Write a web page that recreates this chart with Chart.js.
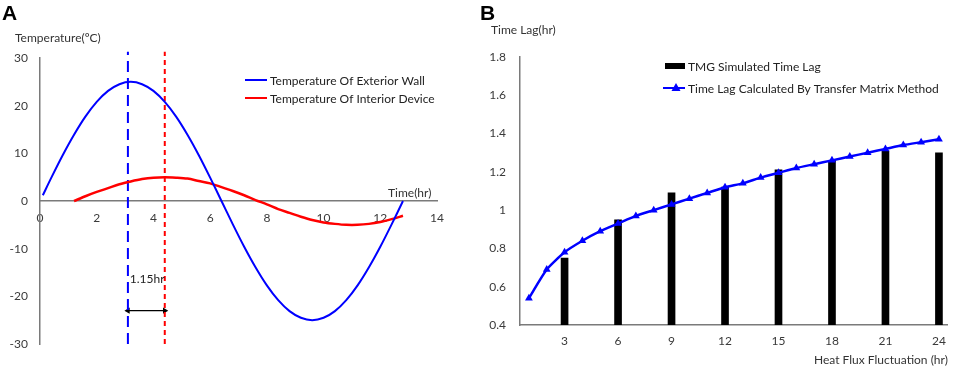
<!DOCTYPE html>
<html lang="en">
<head>
  <meta charset="UTF-8" />
  <title>Temperature and Time Lag</title>
  <style>
    body, html {
      margin: 0;
      background: #fff;
      font-family: 'Lato', sans-serif;
    }
    #wrap {
      position: relative;
      width: 955px;
      height: 369px;
      overflow: hidden;
    }
    canvas { position: absolute; top: 0; }
    #chartA { left: 0; }
    #chartB { left: 478px; }
    .txt {
      position: absolute;
      font-size: 12px;
      color: #333;
      white-space: nowrap;
      line-height: 14px;
    }
    .panel {
      position: absolute;
      font-family: 'Liberation Sans', Arial, sans-serif;
      font-weight: bold;
      font-size: 21px;
      line-height: 21px;
      color: #000;
    }
  </style>
</head>
<body>
<div id="wrap">
  <canvas id="chartA" width="478" height="369"></canvas>
  <canvas id="chartB" width="477" height="369"></canvas>
  <div class="panel" style="left:2px; top:2px;">A</div>
  <div class="panel" style="left:480px; top:2px;">B</div>
  <div class="txt" style="left:15px; top:31px;">Temperature(ºC)</div>
  <div class="txt" style="left:388px; top:186px;">Time(hr)</div>
  <div class="txt" style="left:491px; top:23px;">Time Lag(hr)</div>
</div>

<script src="https://cdn.jsdelivr.net/npm/chart.js"></script>
<script>
  // panel A - temperature waves
  const wallTime = [0.1, 0.4, 0.8, 1.2, 1.6, 2.0, 2.4, 2.8, 3.2, 3.6, 4.0, 4.4, 4.8, 5.2, 5.6, 6.0, 6.4,
                    6.8, 7.2, 7.6, 8.0, 8.4, 8.8, 9.2, 9.6, 10.0, 10.4, 10.8, 11.2, 11.6, 12.0, 12.4, 12.8];
  const wallTemp = [1.2, 4.9, 9.6, 13.9, 17.7, 20.8, 23.1, 24.5, 25.0, 24.5, 23.1, 20.8, 17.7, 13.9, 9.6, 4.9, 0,
                    -4.9, -9.6, -13.9, -17.7, -20.8, -23.1, -24.5, -25.0, -24.5, -23.1, -20.8, -17.7, -13.9, -9.6, -4.9, 0];
  const deviceTime = [1.2, 1.6, 2.0, 2.4, 2.8, 3.2, 3.6, 4.0, 4.4, 4.8, 5.2, 5.6, 6.0, 6.4, 6.8,
                      7.2, 7.6, 8.0, 8.4, 8.8, 9.2, 9.6, 10.0, 10.4, 10.8, 11.2, 11.6, 12.0, 12.4, 12.8];
  const deviceTemp = [0, 1.0, 1.9, 2.7, 3.5, 4.1, 4.6, 4.9, 5.0, 4.9, 4.7, 4.2, 3.7, 2.9, 2.1,
                      1.2, 0.2, -0.7, -1.7, -2.5, -3.3, -4.0, -4.5, -4.8, -5.0, -5.0, -4.8, -4.4, -3.8, -3.1];
  const peakTime = [3.1, 4.4];      // wall peak, device peak
  const lagText = '1.15hr';
  const timeTicks = [0, 14, 2];     // min, max, step
  const tempTicks = [-30, 30, 10];

  // panel B - time lag
  const fluctHours = ['1', '2', '3', '4', '5', '6', '7', '8', '9', '10', '11', '12',
                      '13', '14', '15', '16', '17', '18', '19', '20', '21', '22', '23', '24'];
  const tmmLag = [0.54, 0.69, 0.78, 0.84, 0.89, 0.93, 0.97, 1.00, 1.03, 1.06, 1.09, 1.12,
                  1.14, 1.17, 1.195, 1.22, 1.24, 1.26, 1.28, 1.30, 1.32, 1.34, 1.355, 1.37];
  const tmgHours = ['3', '6', '9', '12', '15', '18', '21', '24'];
  const tmgLag = [0.75, 0.95, 1.09, 1.12, 1.21, 1.26, 1.31, 1.30];
  const lagTicks = [0.4, 1.8, 0.2];

  const axisColor = '#7a7a7a';
  const tickColor = '#3a3a3a';
  const tickFont = { family: 'Lato', size: 12 };

  const pts = (xs, ys) => xs.map((x, i) => ({ x: x, y: ys[i] }));

  // small legend drawn inside the plot
  function legendPlugin(items) {
    return {
      id: 'inlineLegend',
      afterDraw(chart) {
        const ctx = chart.ctx;
        ctx.save();
        ctx.font = '12px Lato';
        ctx.textBaseline = 'middle';
        items.forEach(it => {
          const ds = chart.data.datasets[it.ds];
          if (it.kind === 'box') {
            ctx.fillStyle = ds.backgroundColor;
            ctx.fillRect(it.x, it.y - 3, it.w, 6);
          } else {
            ctx.strokeStyle = ds.borderColor;
            ctx.lineWidth = 2;
            ctx.beginPath();
            ctx.moveTo(it.x, it.y);
            ctx.lineTo(it.x + it.w, it.y);
            ctx.stroke();
            if (it.marker) {
              ctx.fillStyle = ds.borderColor;
              const cx = it.x + it.w / 2 + 2;
              ctx.beginPath();
              ctx.moveTo(cx, it.y - 5);
              ctx.lineTo(cx + 4.5, it.y + 3);
              ctx.lineTo(cx - 4.5, it.y + 3);
              ctx.closePath();
              ctx.fill();
            }
          }
          ctx.fillStyle = '#222';
          ctx.fillText(ds.label, it.x + it.w + 3, it.y + 1);
        });
        ctx.restore();
      }
    };
  }

  const lagLabel = {
    id: 'lagLabel',
    afterDatasetsDraw(chart) {
      const { ctx, scales } = chart;
      ctx.save();
      ctx.font = '12px Lato';
      ctx.fillStyle = '#222';
      ctx.textAlign = 'center';
      ctx.textBaseline = 'middle';
      ctx.fillText(lagText, scales.x.getPixelForValue((peakTime[0] + peakTime[1]) / 2 + 0.03),
                   scales.y.getPixelForValue(-16.4));
      ctx.restore();
    }
  };

  new Chart(document.getElementById('chartA'), {
    type: 'scatter',
    data: {
      datasets: [
        {
          label: 'Temperature Of Exterior Wall',
          data: pts(wallTime, wallTemp),
          showLine: true, borderColor: '#0000ff', borderWidth: 2,
          pointRadius: 0, tension: 0.3
        },
        {
          label: 'Temperature Of Interior Device',
          data: pts(deviceTime, deviceTemp),
          showLine: true, borderColor: '#ff0000', borderWidth: 2.5,
          pointRadius: 0, tension: 0.3
        },
        {
          label: 'wall peak',
          data: [{ x: peakTime[0], y: -30 }, { x: peakTime[0], y: 31.3 }],
          showLine: true, borderColor: '#0000ff', borderWidth: 2, borderDash: [11, 6],
          pointRadius: 0, clip: false
        },
        {
          label: 'device peak',
          data: [{ x: peakTime[1], y: -30 }, { x: peakTime[1], y: 31.3 }],
          showLine: true, borderColor: '#ff0000', borderWidth: 2, borderDash: [5, 4],
          pointRadius: 0, clip: false
        },
        {
          label: 'lag',
          data: [{ x: peakTime[0], y: -23 }, { x: peakTime[1], y: -23 }],
          showLine: true, borderColor: '#000', borderWidth: 1.3,
          pointStyle: 'triangle', pointRotation: [-90, 90], pointRadius: 3.5,
          pointBackgroundColor: '#000', pointBorderWidth: 0
        }
      ]
    },
    options: {
      responsive: false,
      animation: false,
      layout: { padding: { top: 58, right: 41, bottom: 25, left: 0 } },
      plugins: { legend: { display: false }, tooltip: { enabled: false } },
      scales: {
        x: {
          type: 'linear',
          position: { y: 0 },
          min: timeTicks[0], max: timeTicks[1],
          ticks: { stepSize: timeTicks[2], padding: 10, color: tickColor, font: tickFont, maxRotation: 0 },
          grid: { display: false, drawTicks: false },
          border: { color: axisColor, width: 1.5 }
        },
        y: {
          min: tempTicks[0], max: tempTicks[1],
          ticks: { stepSize: tempTicks[2], padding: 12, color: tickColor, font: tickFont },
          grid: { display: false, drawTicks: false },
          border: { color: axisColor, width: 1.5 },
          afterFit(s) { s.width = 40; }
        }
      }
    },
    plugins: [
      lagLabel,
      legendPlugin([
        { ds: 0, kind: 'line', x: 245, y: 80, w: 22 },
        { ds: 1, kind: 'line', x: 245, y: 98, w: 22 }
      ])
    ]
  });

  new Chart(document.getElementById('chartB'), {
    type: 'bar',
    data: {
      labels: fluctHours,
      datasets: [
        {
          type: 'line',
          label: 'Time Lag Calculated By Transfer Matrix Method',
          data: tmmLag,
          borderColor: '#0000ff', backgroundColor: '#0000ff', borderWidth: 2.5,
          pointStyle: 'triangle', pointRadius: 4.5, pointBorderWidth: 0,
          pointBackgroundColor: '#0000ff', tension: 0.2, order: 0
        },
        {
          label: 'TMG Simulated Time Lag',
          data: pts(tmgHours, tmgLag),
          backgroundColor: '#000', barThickness: 7, order: 1
        }
      ]
    },
    options: {
      responsive: false,
      animation: false,
      layout: { padding: { top: 57, right: 3, bottom: 0, left: 0 } },
      plugins: { legend: { display: false }, tooltip: { enabled: false } },
      scales: {
        x: {
          offset: true,
          ticks: {
            autoSkip: false, maxRotation: 0, padding: 9, color: tickColor, font: tickFont,
            callback(v) {
              const l = this.getLabelForValue(v);
              return (+l % 3 === 0) ? l : '';
            }
          },
          grid: { display: false, drawTicks: false },
          border: { color: axisColor, width: 1.5 },
          title: {
            display: true, text: 'Heat Flux Fluctuation (hr)', align: 'end',
            color: '#333', font: tickFont, padding: { top: 0, bottom: 2 }
          },
          afterFit(s) { s.height = 44; }
        },
        y: {
          min: lagTicks[0], max: lagTicks[1],
          ticks: {
            stepSize: lagTicks[2], padding: 14, color: tickColor, font: tickFont,
            callback: v => String(+v.toFixed(1))
          },
          grid: { display: false, drawTicks: false },
          border: { color: axisColor, width: 1.5 },
          afterFit(s) { s.width = 42; }
        }
      }
    },
    plugins: [
      legendPlugin([
        { ds: 1, kind: 'box', x: 187, y: 66, w: 20 },
        { ds: 0, kind: 'line', x: 185, y: 88, w: 22, marker: true }
      ])
    ]
  });
</script>
</body>
</html>
